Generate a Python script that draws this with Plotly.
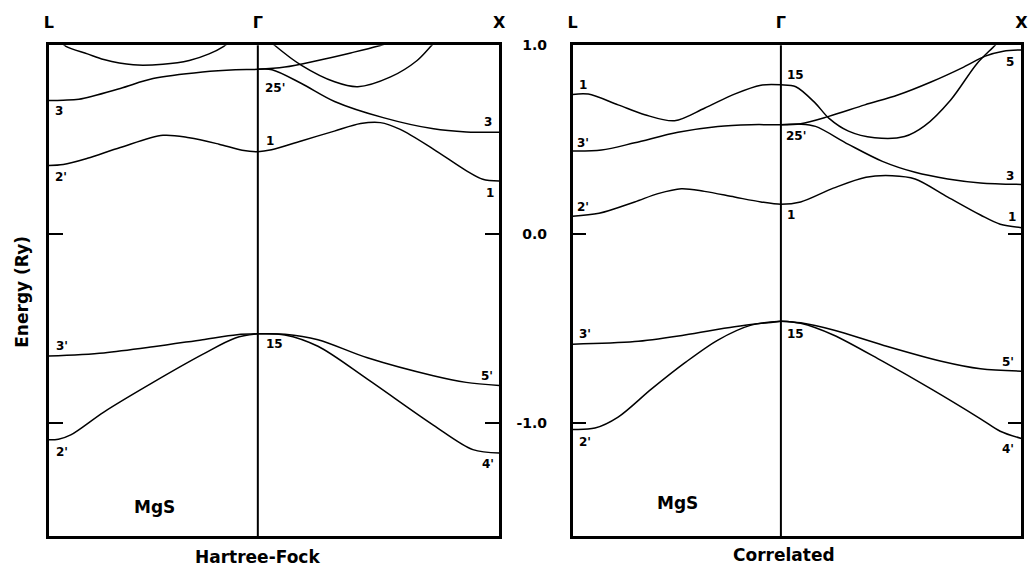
import plotly.graph_objects as go

# ---- k-path: L -> Gamma -> X (units of 2*pi/a) ----
K_L, K_G, K_X = 0.0, 0.866, 1.866
sym_vals = [K_L, K_G, K_X]
sym_text = ["L", "Γ", "X"]

# energy ticks (Ry)
e_tick_vals = [1.0, 0.0, -1.0]
e_tick_text = ["1.0", "0.0", "-1.0"]

# ---------------- Hartree-Fock bands ----------------
hf_c1_k = [0, 0.06, 0.160, 0.296, 0.473, 0.582, 0.705, 0.801, 0.866, 0.923, 1.046, 1.183, 1.292, 1.374, 1.456, 1.593, 1.729, 1.798, 1.866]
hf_c1_e = [0.363, 0.368, 0.401, 0.458, 0.523, 0.510, 0.476, 0.444, 0.436, 0.446, 0.493, 0.545, 0.585, 0.590, 0.554, 0.450, 0.336, 0.290, 0.281]

hf_c2_k = [0, 0.06, 0.125, 0.296, 0.432, 0.637, 0.773, 0.866, 0.978, 1.115, 1.251, 1.361, 1.45]
hf_c2_e = [0.707, 0.709, 0.714, 0.771, 0.823, 0.858, 0.870, 0.872, 0.884, 0.919, 0.959, 0.994, 1.03]

hf_c3_k = [0.866, 0.925, 1.047, 1.184, 1.389, 1.594, 1.730, 1.866]
hf_c3_e = [0.872, 0.870, 0.797, 0.702, 0.615, 0.557, 0.541, 0.539]

hf_c4_k = [0.04, 0.071, 0.160, 0.228, 0.350, 0.473, 0.582, 0.664, 0.725, 0.76]
hf_c4_e = [1.03, 0.994, 0.954, 0.924, 0.896, 0.899, 0.919, 0.954, 0.994, 1.03]

hf_c5_k = [0.91, 0.938, 1.047, 1.184, 1.280, 1.416, 1.526, 1.587, 1.61]
hf_c5_e = [1.03, 0.997, 0.893, 0.806, 0.780, 0.832, 0.919, 1.0, 1.03]

hf_v1_k = [0, 0.228, 0.432, 0.637, 0.780, 0.866]
hf_v1_e = [-0.646, -0.629, -0.597, -0.559, -0.533, -0.528]

hf_v2_k = [0, 0.04, 0.091, 0.228, 0.432, 0.637, 0.773, 0.866]
hf_v2_e = [-1.089, -1.086, -1.063, -0.942, -0.785, -0.637, -0.550, -0.528]

hf_v3_k = [0.866, 0.978, 1.115, 1.320, 1.593, 1.729, 1.866]
hf_v3_e = [-0.528, -0.530, -0.559, -0.655, -0.750, -0.785, -0.802]

hf_v4_k = [0.866, 0.978, 1.115, 1.320, 1.593, 1.757, 1.866]
hf_v4_e = [-0.528, -0.534, -0.594, -0.768, -1.011, -1.141, -1.159]

hf_lab_text = ["3", "2'", "25'", "1", "3", "1", "3'", "2'", "15", "5'", "4'"]
hf_lab_k = [0.044, 0.052, 0.937, 0.916, 1.818, 1.826, 0.056, 0.056, 0.937, 1.814, 1.818]
hf_lab_e = [0.652, 0.300, 0.773, 0.492, 0.593, 0.217, -0.594, -1.156, -0.580, -0.751, -1.215]

# ---------------- Correlated bands ----------------
cor_c1_k = [0, 0.11, 0.258, 0.355, 0.452, 0.548, 0.673, 0.783, 0.866, 0.948, 1.084, 1.220, 1.329, 1.424, 1.560, 1.696, 1.778, 1.866]
cor_c1_e = [0.095, 0.110, 0.170, 0.214, 0.240, 0.226, 0.196, 0.170, 0.158, 0.170, 0.243, 0.301, 0.309, 0.292, 0.196, 0.101, 0.052, 0.034]

cor_c2_k = [0, 0.120, 0.258, 0.438, 0.604, 0.742, 0.866, 0.948, 1.010, 1.147, 1.288, 1.424, 1.560, 1.696, 1.866]
cor_c2_e = [0.440, 0.445, 0.483, 0.539, 0.570, 0.579, 0.579, 0.582, 0.570, 0.475, 0.385, 0.327, 0.292, 0.271, 0.263]

cor_c3_k = [0.866, 0.948, 1.065, 1.215, 1.352, 1.490, 1.626, 1.716, 1.791, 1.866]
cor_c3_e = [0.579, 0.584, 0.623, 0.684, 0.736, 0.805, 0.884, 0.942, 0.968, 0.975]

cor_c4_k = [0, 0.065, 0.189, 0.300, 0.424, 0.548, 0.673, 0.783, 0.866, 0.928, 1.010, 1.065, 1.147, 1.256, 1.380, 1.462, 1.572, 1.681, 1.757, 1.80]
cor_c4_e = [0.739, 0.741, 0.684, 0.632, 0.600, 0.666, 0.741, 0.788, 0.790, 0.780, 0.692, 0.614, 0.545, 0.510, 0.516, 0.571, 0.710, 0.902, 1.0, 1.06]

cor_v1_k = [0, 0.258, 0.466, 0.673, 0.866]
cor_v1_e = [-0.583, -0.569, -0.534, -0.491, -0.461]

cor_v2_k = [0, 0.093, 0.189, 0.327, 0.466, 0.604, 0.742, 0.866]
cor_v2_e = [-1.034, -1.027, -0.969, -0.821, -0.682, -0.561, -0.482, -0.461]

cor_v3_k = [0.866, 0.948, 1.084, 1.288, 1.533, 1.696, 1.866]
cor_v3_e = [-0.461, -0.470, -0.508, -0.587, -0.673, -0.713, -0.726]

cor_v4_k = [0.866, 0.948, 1.084, 1.288, 1.492, 1.696, 1.778, 1.866]
cor_v4_e = [-0.461, -0.472, -0.534, -0.673, -0.821, -0.978, -1.044, -1.082]

cor_lab_text = ["1", "3'", "2'", "15", "25'", "1", "5", "3", "1", "3'", "2'", "15", "5'", "4'"]
cor_lab_k = [0.041, 0.044, 0.044, 0.925, 0.928, 0.907, 1.818, 1.818, 1.825, 0.051, 0.051, 0.928, 1.811, 1.811]
cor_lab_e = [0.788, 0.483, 0.144, 0.840, 0.518, 0.101, 0.910, 0.310, 0.092, -0.529, -1.100, -0.529, -0.678, -1.140]

panel_titles = ["Hartree-Fock", "Correlated"]
compound = "MgS"
compound_pos = [(0.44, -1.443), (0.434, -1.426)]

FONT = "DejaVu Sans"
E_RANGE = [-1.598, 1.0]

fig = go.Figure()

hf_bands = [(hf_c1_k, hf_c1_e), (hf_c2_k, hf_c2_e), (hf_c3_k, hf_c3_e), (hf_c4_k, hf_c4_e),
            (hf_c5_k, hf_c5_e), (hf_v1_k, hf_v1_e), (hf_v2_k, hf_v2_e), (hf_v3_k, hf_v3_e),
            (hf_v4_k, hf_v4_e)]
cor_bands = [(cor_c1_k, cor_c1_e), (cor_c2_k, cor_c2_e), (cor_c3_k, cor_c3_e), (cor_c4_k, cor_c4_e),
             (cor_v1_k, cor_v1_e), (cor_v2_k, cor_v2_e), (cor_v3_k, cor_v3_e), (cor_v4_k, cor_v4_e)]

for bands, xa, ya in [(hf_bands, "x", "y"), (cor_bands, "x2", "y2")]:
    for k, e in bands:
        fig.add_trace(go.Scatter(
            x=k, y=e, mode="lines", xaxis=xa, yaxis=ya,
            line=dict(color="black", width=1.5, shape="spline", smoothing=0.9),
            showlegend=False, hoverinfo="skip"))

# Gamma-point vertical lines
for xa, ya in [("x", "y"), ("x2", "y2")]:
    fig.add_shape(type="line", xref=xa, yref=ya + " domain",
                  x0=K_G, x1=K_G, y0=0, y1=1,
                  line=dict(color="black", width=2))

annotations = []
lab_font = dict(family=FONT, size=12, color="black", weight="bold")
for texts, ks, es, xa, ya in [(hf_lab_text, hf_lab_k, hf_lab_e, "x", "y"),
                              (cor_lab_text, cor_lab_k, cor_lab_e, "x2", "y2")]:
    for t, k, e in zip(texts, ks, es):
        annotations.append(dict(x=k, y=e, xref=xa, yref=ya, text=t, showarrow=False,
                                font=lab_font, xanchor="center", yanchor="middle"))

for (k, e), xa, ya in zip(compound_pos, ["x", "x2"], ["y", "y2"]):
    annotations.append(dict(x=k, y=e, xref=xa, yref=ya, text=compound, showarrow=False,
                            font=dict(family=FONT, size=17, color="black", weight="bold"),
                            xanchor="center", yanchor="middle"))

for title, xpix, ypix in [(panel_titles[0], 255, 557), (panel_titles[1], 788, 555)]:
    annotations.append(dict(x=xpix / 1035, y=1 - ypix / 567, xref="paper", yref="paper",
                            text=title, showarrow=False,
                            font=dict(family=FONT, size=17, color="black", weight="bold"),
                            xanchor="center", yanchor="middle"))

annotations.append(dict(x=17 / 1035, y=1 - 288 / 567, xref="paper", yref="paper",
                        text="Energy (Ry)", textangle=-90, showarrow=False,
                        font=dict(family=FONT, size=17, color="black", weight="bold"),
                        xanchor="center", yanchor="middle"))

y_dom = [1 - 535.5 / 567, 1 - 37.7 / 567]

xaxis_common = dict(range=[K_L, K_X], side="top", tickvals=sym_vals, ticktext=sym_text,
                    ticks="", showgrid=False, zeroline=False, showline=True, mirror=True,
                    linecolor="black", linewidth=2.5, ticklabelstandoff=8,
                    tickfont=dict(family=FONT, size=16, color="black", weight="bold"))
yaxis_common = dict(range=E_RANGE, domain=y_dom, tickvals=e_tick_vals, ticktext=e_tick_text,
                    ticks="inside", ticklen=14, tickwidth=2, tickcolor="black",
                    showgrid=False, zeroline=False, showline=True, mirror="ticks",
                    linecolor="black", linewidth=2.5,
                    tickfont=dict(family=FONT, size=14, color="black", weight="bold"))

fig.update_layout(
    width=1035, height=567,
    margin=dict(l=0, r=0, t=0, b=0),
    paper_bgcolor="white", plot_bgcolor="white",
    xaxis=dict(xaxis_common, domain=[44.3 / 1035, 500 / 1035], anchor="y"),
    yaxis=dict(yaxis_common, anchor="x", showticklabels=False),
    xaxis2=dict(xaxis_common, domain=[574.3 / 1035, 1028.3 / 1035], anchor="y2"),
    yaxis2=dict(yaxis_common, anchor="x2", showticklabels=True, ticklabelstandoff=20),
    annotations=annotations,
)

fig.write_html("out.html")
